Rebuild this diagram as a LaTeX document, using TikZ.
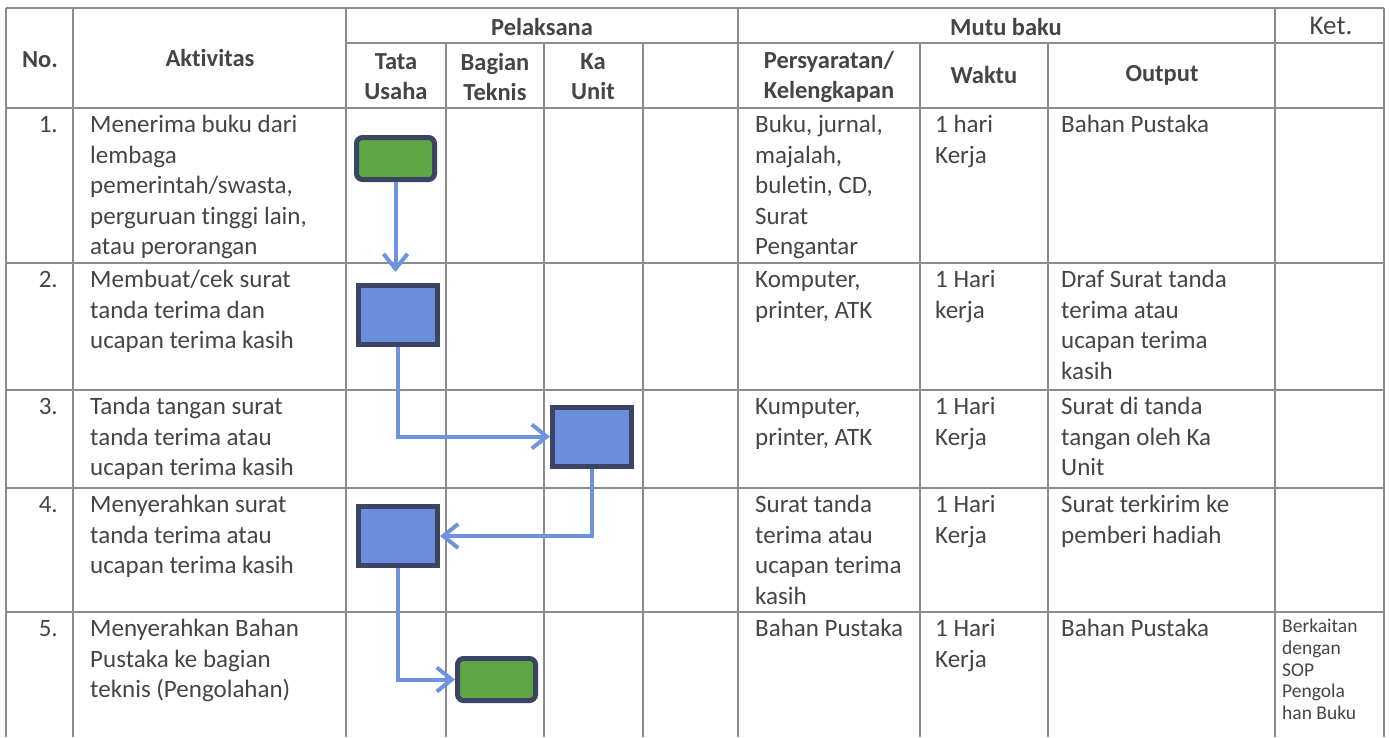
\documentclass[tikz,border=0pt]{standalone}
\usepackage{fontspec}
\setmainfont{Carlito}[RawFeature={-liga;-clig;-dlig;-calt}]
\usetikzlibrary{arrows.meta}
\definecolor{txt}{HTML}{454545}
\definecolor{gridc}{HTML}{8C8C8C}
\definecolor{bluefill}{HTML}{6A8EDB}
\definecolor{greenfill}{HTML}{5EA843}
\definecolor{boxline}{HTML}{3B4563}
\definecolor{conn}{HTML}{6E94E0}
\begin{document}
\begin{tikzpicture}[x=1pt,y=-1pt,
  gridline/.style={draw=gridc,line width=1.1pt},
  hdr/.style={font=\fontsize{24.5}{30}\selectfont\bfseries, text=txt, align=center, inner sep=0},
  cell/.style={font=\fontsize{25}{30.5}\selectfont, text=txt, align=left, anchor=north west, inner sep=0},
  num/.style={font=\fontsize{25}{30.5}\selectfont, text=txt, anchor=north east, inner sep=0},
  bluebox/.style={draw=boxline, fill=bluefill, line width=5pt, minimum width=79pt, minimum height=59pt, inner sep=0},
  greenbox/.style={draw=boxline, fill=greenfill, line width=5pt, rounded corners=6pt, minimum width=78pt, minimum height=42pt, inner sep=0},
  flow/.style={draw=conn, line width=4pt, -{Straight Barb[length=15pt,width=24pt]}},
]
\useasboundingbox (0,0) rectangle (1390,737);
\fill[white] (0,0) rectangle (1390,737);
% grid
\foreach \yy in {8,108,263,390,488,612} {\draw[gridline] (6,\yy) -- (1384,\yy);}
\draw[gridline] (346,43) -- (1384,43);
\foreach \xx in {6,73,346,738,1275,1384} {\draw[gridline] (\xx,8) -- (\xx,737);}
\foreach \xx in {446,544,643,920,1048} {\draw[gridline] (\xx,43) -- (\xx,737);}
% headers
\node[hdr] (hno) at (40,60) {No.};
\node[hdr] (hakt) at (210,58) {Aktivitas};
\node[hdr] (hpel) at (542,27) {Pelaksana};
\node[hdr] (htu) at (396,77) {Tata\\Usaha};
\node[hdr] (hbt) at (495,77) {Bagian\\Teknis};
\node[hdr] (hku) at (593,77) {Ka\\Unit};
\node[hdr] (hmb) at (1006,27) {Mutu baku};
\node[font=\fontsize{27}{32}\selectfont, text=txt, inner sep=0] (hket) at (1331,26) {Ket.};
\node[hdr] (hper) at (829,77) {Persyaratan/\\Kelengkapan};
\node[hdr] (hwak) at (984,75) {Waktu};
\node[hdr] (hout) at (1162,75) {Output};
% row 1
\node[num] (n1) at (58,111) {\strut 1.};
\node[cell] (a1) at (90,111) {\strut Menerima buku dari\\lembaga\\pemerintah/swasta,\\perguruan tinggi lain,\\atau perorangan};
\node[cell] (p1) at (755,111) {\strut Buku, jurnal,\\majalah,\\buletin, CD,\\Surat\\Pengantar};
\node[cell] (w1) at (935,111) {\strut 1 hari\\Kerja};
\node[cell] (o1) at (1061,111) {\strut Bahan Pustaka};
% row 2
\node[num] (n2) at (58,266) {\strut 2.};
\node[cell] (a2) at (90,266) {\strut Membuat/cek surat\\tanda terima dan\\ucapan terima kasih};
\node[cell] (p2) at (755,266) {\strut Komputer,\\printer, ATK};
\node[cell] (w2) at (935,266) {\strut 1 Hari\\kerja};
\node[cell] (o2) at (1061,266) {\strut Draf Surat tanda\\terima atau\\ucapan terima\\kasih};
% row 3
\node[num] (n3) at (58,393) {\strut 3.};
\node[cell] (a3) at (90,393) {\strut Tanda tangan surat\\tanda terima atau\\ucapan terima kasih};
\node[cell] (p3) at (755,393) {\strut Kumputer,\\printer, ATK};
\node[cell] (w3) at (935,393) {\strut 1 Hari\\Kerja};
\node[cell] (o3) at (1061,393) {\strut Surat di tanda\\tangan oleh Ka\\Unit};
% row 4
\node[num] (n4) at (58,491) {\strut 4.};
\node[cell] (a4) at (90,491) {\strut Menyerahkan surat\\tanda terima atau\\ucapan terima kasih};
\node[cell] (p4) at (755,491) {\strut Surat tanda\\terima atau\\ucapan terima\\kasih};
\node[cell] (w4) at (935,491) {\strut 1 Hari\\Kerja};
\node[cell] (o4) at (1061,491) {\strut Surat terkirim ke\\pemberi hadiah};
% row 5
\node[num] (n5) at (58,615) {\strut 5.};
\node[cell] (a5) at (90,615) {\strut Menyerahkan Bahan\\Pustaka ke bagian\\teknis (Pengolahan)};
\node[cell] (p5) at (755,615) {\strut Bahan Pustaka};
\node[cell] (w5) at (935,615) {\strut 1 Hari\\Kerja};
\node[cell] (o5) at (1061,615) {\strut Bahan Pustaka};
\node[cell, font=\fontsize{19.5}{21.8}\selectfont] (k5) at (1282,617) {\strut Berkaitan\\dengan\\SOP\\Pengola\\han Buku};
% flow boxes
\node[greenbox] (g1) at (395.5,158.5) {};
\node[bluebox] (b2) at (398,315) {};
\node[bluebox] (b3) at (592,436.5) {};
\node[bluebox] (b4) at (398,536) {};
\node[greenbox] (g5) at (496.5,679.5) {};
\coordinate (t1) at (395.5,272);
\draw[flow] (g1.south) -- (t1);
\draw[flow] (b2.south) |- (b3.west);
\draw[flow] (b3.south) |- (b4.east);
\draw[flow] (b4.south) |- (g5.west);
\end{tikzpicture}
\end{document}
